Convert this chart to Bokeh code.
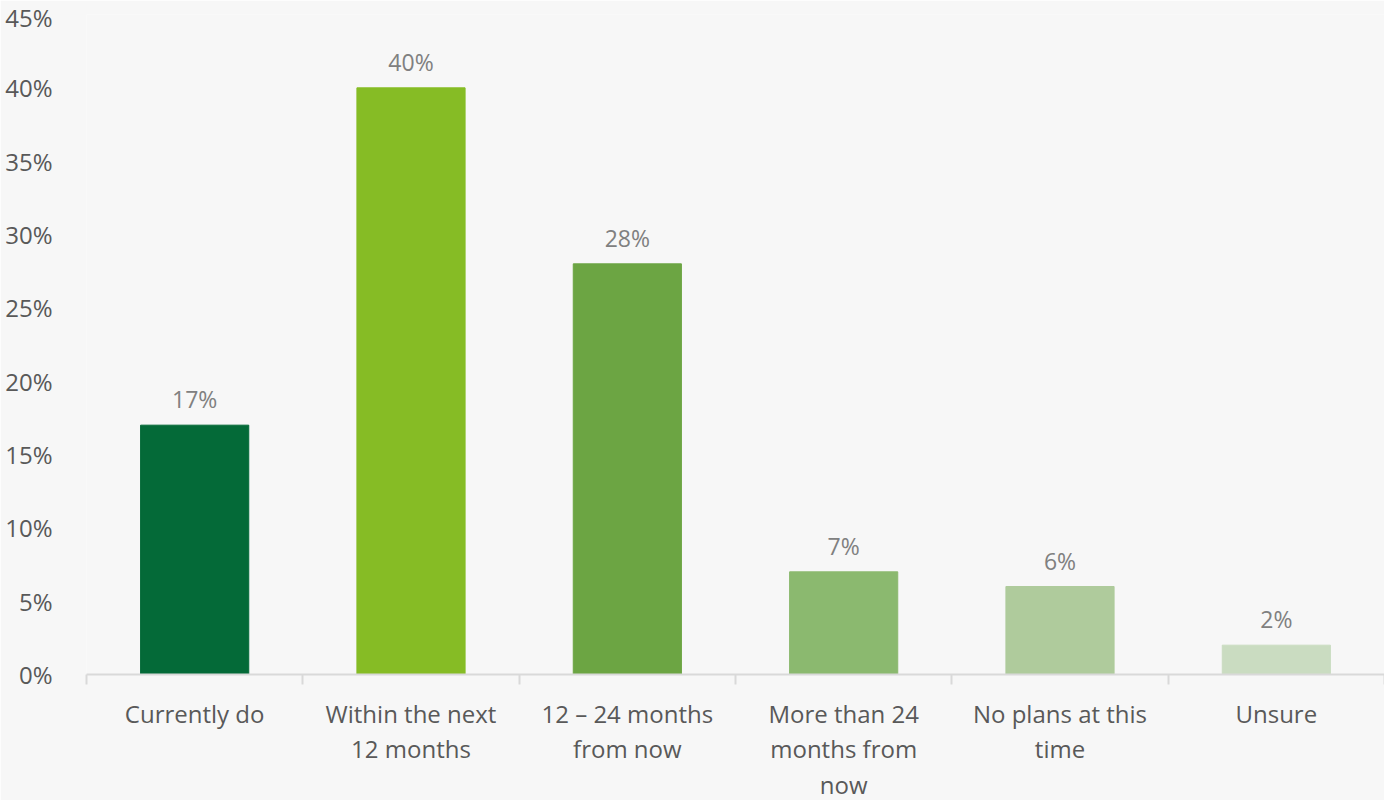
from bokeh.plotting import figure
from bokeh.models import ColumnDataSource, FixedTicker
from bokeh.core.properties import value
from bokeh.embed import file_html
from bokeh.resources import INLINE

categories = ["Currently do", "Within the next\n12 months", "12 \u2013 24 months\nfrom now",
              "More than 24\nmonths from\nnow", "No plans at this\ntime", "Unsure"]
values = [17, 40, 28, 7, 6, 2]
colors = ["#046a38", "#86bc25", "#6ca543", "#8bb96f", "#afcb9c", "#cadcc1"]
y_ticks = [0, 5, 10, 15, 20, 25, 30, 35, 40, 45]

FONT = "Open Sans"
BG = "#f7f7f7"

xs = [i + 0.5 for i in range(len(categories))]
src = ColumnDataSource(dict(x=xs, top=values, color=colors,
                            label=[f"{v}%" for v in values]))

p = figure(frame_width=1298, frame_height=660, x_range=(0, len(categories)), y_range=(0, 45),
           output_backend="svg", toolbar_location=None,
           background_fill_color=BG, border_fill_color=BG,
           min_border_left=86, min_border_right=0, min_border_top=14, min_border_bottom=0)
p.outline_line_color = None
p.grid.visible = False

p.vbar(x="x", top="top", width=0.5, bottom=0, color="color", source=src)
p.text(x="x", y="top", text="label", source=src, text_align="center", text_baseline="bottom",
       y_offset=-10, text_font=value(FONT), text_font_size="23px", text_color="#808080")

xa = p.xaxis[0]
xa.ticker = FixedTicker(ticks=xs, minor_ticks=list(range(len(categories) + 1)))
xa.major_label_overrides = {x: c for x, c in zip(xs, categories)}
xa.axis_line_color = "#d9d9d9"
xa.axis_line_width = 2
xa.major_tick_line_color = None
xa.major_tick_in = 0
xa.major_tick_out = 0
xa.minor_tick_line_color = "#d9d9d9"
xa.minor_tick_line_width = 2
xa.minor_tick_in = 0
xa.minor_tick_out = 10
xa.major_label_standoff = 12
xa.major_label_text_font = FONT
xa.major_label_text_font_size = "24px"
xa.major_label_text_line_height = 1.08
xa.major_label_text_color = "#595959"

ya = p.yaxis[0]
ya.ticker = FixedTicker(ticks=y_ticks)
ya.major_label_overrides = {t: f"{t}%" for t in y_ticks}
ya.axis_line_color = None
ya.major_tick_line_color = None
ya.minor_tick_line_color = None
ya.major_label_standoff = 28
ya.major_label_text_font = FONT
ya.major_label_text_font_size = "24px"
ya.major_label_text_color = "#595959"

open("out.html", "w").write(file_html(p, INLINE))
